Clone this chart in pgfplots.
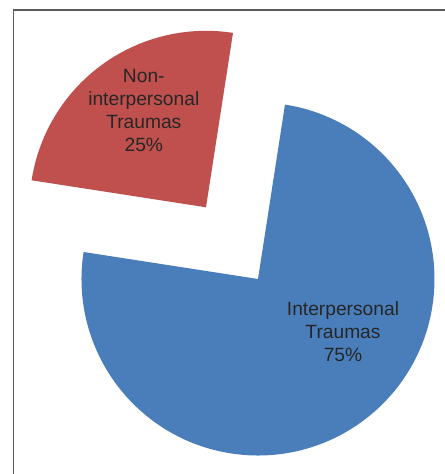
\documentclass[border=0pt]{standalone}
\usepackage{pgfplots}
\pgfplotsset{compat=1.18}
\usepackage{pgfplotstable}
\usepackage{fontspec}
\setmainfont{Liberation Sans}
\definecolor{pieblue}{HTML}{4A7EBB}
\definecolor{piered}{HTML}{C0504D}
\definecolor{txt}{HTML}{262626}
\definecolor{frame}{HTML}{5A5A5A}

\pgfplotstableread{
label value
Interpersonal 75
Noninterpersonal 25
}\piedata

\begin{document}
\begin{tikzpicture}
\pgfplotstablegetelem{0}{value}\of\piedata \let\va\pgfplotsretval
\pgfplotstablegetelem{1}{value}\of\piedata \let\vb\pgfplotsretval
\pgfmathsetmacro{\startA}{81.2}
\pgfmathsetmacro{\redEnd}{\startA + \vb*3.6}
\pgfmathsetmacro{\blueEnd}{\redEnd + \va*3.6}
\begin{axis}[width=445bp,height=474bp,scale only axis,
  xmin=0,xmax=445,ymin=0,ymax=474,hide axis,clip=false]
\coordinate (bl) at (axis cs:0,0);
\coordinate (tr) at (axis cs:445,474);
% blue slice (75%)
\fill[pieblue] (axis cs:258,195) -- ++(\redEnd:176.5bp)
  arc[start angle=\redEnd, end angle=\blueEnd, radius=176.5bp] -- cycle;
% red slice (25%), exploded
\fill[piered] (axis cs:206,266.7) -- ++(\startA:176.5bp)
  arc[start angle=\startA, end angle=\redEnd, radius=176.5bp] -- cycle;
\node[font=\fontsize{19.2bp}{23.1bp}\selectfont, align=center, text=txt, inner sep=0pt]
  at (axis cs:143.8,363.5) {Non-\\interpersonal\\Traumas\\25\%};
\node[font=\fontsize{19.2bp}{23.1bp}\selectfont, align=center, text=txt, inner sep=0pt]
  at (axis cs:343,142.6) {Interpersonal\\Traumas\\75\%};
\draw[frame, line width=1.2bp] (axis cs:13.5,0) -- (axis cs:13.5,464) -- (axis cs:445,464);
\end{axis}
\pgfresetboundingbox
\path[use as bounding box] (bl) rectangle (tr);
\end{tikzpicture}
\end{document}
